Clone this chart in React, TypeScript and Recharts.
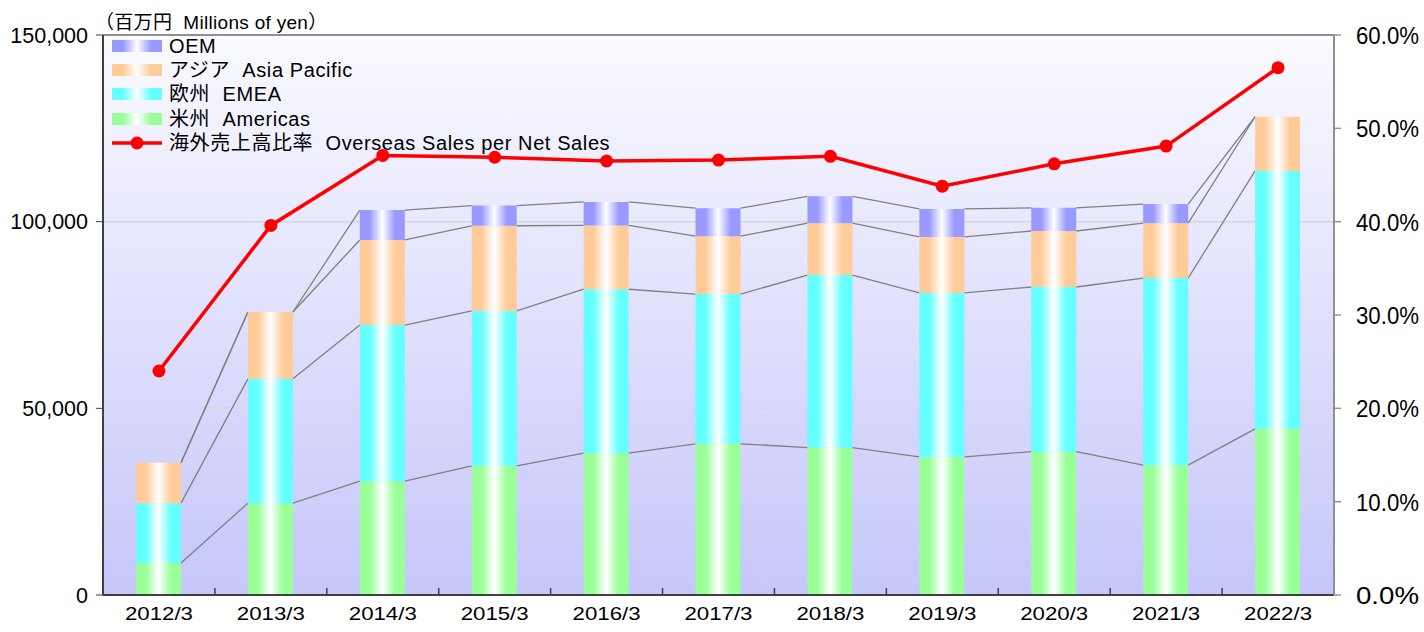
import {
  Bar,
  CartesianGrid,
  ComposedChart,
  Line,
  ReferenceLine,
  XAxis,
  YAxis,
} from 'recharts';

const years = ['2012/3', '2013/3', '2014/3', '2015/3', '2016/3', '2017/3', '2018/3', '2019/3', '2020/3', '2021/3', '2022/3'];
const americas = [8600, 24600, 30500, 34600, 38000, 40500, 39500, 37000, 38400, 34800, 44500];
const emea = [16000, 33300, 41800, 41500, 43900, 40100, 46200, 43900, 44100, 50100, 69100];
const asiaPacific = [10800, 17900, 22800, 22800, 17100, 15500, 13900, 15000, 15000, 14700, 14500];
const oem = [0, 0, 8000, 5400, 6300, 7500, 7200, 7500, 6200, 5100, 0];
const overseasRatio = [24.0, 39.6, 47.1, 46.9, 46.5, 46.6, 47.0, 43.8, 46.2, 48.1, 56.5];

const salesTicks = [0, 50000, 100000, 150000];
const ratioTicks = [0, 10, 20, 30, 40, 50, 60];

const W = 1424;
const H = 632;
const LEFT_W = 103;
const RIGHT_W = 90;
const BAND = (W - LEFT_W - RIGHT_W) / years.length;
const FONT = "'Liberation Sans', 'Noto Sans CJK JP', sans-serif";

const data = years.map((year, i) => ({
  year,
  americas: americas[i],
  emea: emea[i],
  asia: asiaPacific[i],
  oem: oem[i],
  ratio: overseasRatio[i],
}));

const legendItems = [
  { label: 'OEM', color: '#9999FF' },
  { label: 'アジア  Asia Pacific', color: '#FFCC99' },
  { label: '欧州  EMEA', color: '#66FFFF' },
  { label: '米州  Americas', color: '#99FF99' },
];

// cumulative tops of each stack level, for the Excel-style series lines
function levelsAt(i: number) {
  const a = americas[i];
  const b = a + emea[i];
  const c = b + asiaPacific[i];
  return [a, b, c, c + oem[i]];
}

function AmericasBar(props: any) {
  const { x, y, width, height } = props;
  const index = props.index ?? years.indexOf(props.payload?.year);
  const k = height / americas[index];
  const base = y + height;
  const lines: any[] = [];
  if (index < years.length - 1) {
    const cur = levelsAt(index);
    const nxt = levelsAt(index + 1);
    cur.forEach((v, j) =>
      lines.push(
        <line
          key={j}
          x1={x + width}
          y1={base - v * k}
          x2={x + BAND}
          y2={base - nxt[j] * k}
          stroke="#808080"
          strokeWidth={1.3}
        />
      )
    );
  }
  return (
    <g>
      <rect x={x} y={y} width={width} height={height} fill="url(#gAm)" />
      {lines}
    </g>
  );
}

function YearTick(props: any) {
  const { x, y, payload } = props;
  const half = payload?.offset || BAND / 2;
  return (
    <g>
      <line x1={x - half} x2={x - half} y1={y - 7} y2={y} stroke="#404040" strokeWidth={1.5} />
      <text x={x} y={y + 25} textAnchor="middle" fontSize={19} fill="#000" fontFamily={FONT} textLength={68} lengthAdjust="spacingAndGlyphs">
        {payload.value}
      </text>
    </g>
  );
}

function RatioTick(props: any) {
  const { x, y, payload } = props;
  return (
    <text x={x} y={y + 9} textAnchor="start" fontSize={23} fill="#000" fontFamily={FONT} textLength={63} lengthAdjust="spacingAndGlyphs">
      {`${Number(payload.value).toFixed(1)}%`}
    </text>
  );
}

function LegendBox() {
  return (
    <div style={{ position: 'absolute', left: 112, top: 34, fontFamily: FONT, fontSize: 20, letterSpacing: 0.6, color: '#000', lineHeight: '24.2px' }}>
      {legendItems.map((it) => (
        <div key={it.label} style={{ display: 'flex', alignItems: 'center', height: 24.2 }}>
          <span
            style={{
              display: 'inline-block',
              width: 50,
              height: 12,
              marginRight: 7,
              background: `linear-gradient(90deg, ${it.color} 0%, ${it.color} 22%, #fff 50%, ${it.color} 78%, ${it.color} 100%)`,
            }}
          />
          <span style={{ whiteSpace: 'pre' }}>{it.label}</span>
        </div>
      ))}
      <div style={{ display: 'flex', alignItems: 'center', height: 24.2 }}>
        <svg width={50} height={16} style={{ marginRight: 7 }}>
          <line x1={0} x2={50} y1={8} y2={8} stroke="#FF0000" strokeWidth={3.5} />
          <circle cx={25} cy={8} r={6.5} fill="#FF0000" />
        </svg>
        <span style={{ whiteSpace: 'pre' }}>海外売上高比率  Overseas Sales per Net Sales</span>
      </div>
    </div>
  );
}

export default function App() {
  return (
    <div style={{ position: 'absolute', left: 0, top: 0, width: W, height: H, background: '#fff', fontFamily: FONT }}>
      <ComposedChart width={W} height={H} data={data} margin={{ top: 35, right: 0, bottom: 0, left: 0 }}>
        <defs>
          <linearGradient id="plotBg" x1="0" y1="0" x2="0" y2="1">
            <stop offset="0" stopColor="#FAFAFF" />
            <stop offset="1" stopColor="#C6C6FA" />
          </linearGradient>
          {[
            ['gAm', '#99FF99'],
            ['gEm', '#66FFFF'],
            ['gAs', '#FFCC99'],
            ['gOe', '#9999FF'],
          ].map(([id, c]) => (
            <linearGradient key={id} id={id} x1="0" y1="0" x2="1" y2="0">
              <stop offset="0" stopColor={c} />
              <stop offset="0.22" stopColor={c} />
              <stop offset="0.5" stopColor="#FFFFFF" />
              <stop offset="0.78" stopColor={c} />
              <stop offset="1" stopColor={c} />
            </linearGradient>
          ))}
        </defs>
        <CartesianGrid yAxisId="left" vertical={false} fill="url(#plotBg)" stroke="#D6D6DE" strokeWidth={1.5} />
        <XAxis
          dataKey="year"
          height={37}
          axisLine={{ stroke: '#404040', strokeWidth: 2 }}
          tickLine={false}
          tickSize={0}
          tickMargin={0}
          tick={<YearTick />}
          interval={0}
        />
        <YAxis
          yAxisId="left"
          width={LEFT_W}
          domain={[0, 150000]}
          ticks={salesTicks}
          tickFormatter={(v) => Number(v).toLocaleString('en-US')}
          axisLine={{ stroke: '#404040', strokeWidth: 2 }}
          tickLine={{ stroke: '#404040' }}
          tickSize={7}
          tickMargin={8}
          tick={{ fontSize: 21.5, fill: '#000', fontFamily: FONT }}
        />
        <YAxis
          yAxisId="right"
          orientation="right"
          width={RIGHT_W}
          domain={[0, 60]}
          ticks={ratioTicks}
          axisLine={{ stroke: '#909090', strokeWidth: 2 }}
          tickLine={{ stroke: '#909090', strokeWidth: 1.5 }}
          tickSize={7}
          tickMargin={15}
          tick={<RatioTick />}
        />
        <ReferenceLine yAxisId="left" y={150000} stroke="#909090" strokeWidth={2} />
        <Bar yAxisId="left" dataKey="americas" stackId="s" barSize={45} fill="url(#gAm)" shape={<AmericasBar />} isAnimationActive={false} />
        <Bar yAxisId="left" dataKey="emea" stackId="s" barSize={45} fill="url(#gEm)" isAnimationActive={false} />
        <Bar yAxisId="left" dataKey="asia" stackId="s" barSize={45} fill="url(#gAs)" isAnimationActive={false} />
        <Bar yAxisId="left" dataKey="oem" stackId="s" barSize={45} fill="url(#gOe)" isAnimationActive={false} />
        <Line
          yAxisId="right"
          dataKey="ratio"
          stroke="#FF0000"
          strokeWidth={3.5}
          dot={{ r: 6.5, fill: '#FF0000', stroke: 'none' }}
          activeDot={false}
          isAnimationActive={false}
        />
      </ComposedChart>
      <div style={{ position: 'absolute', left: 95, top: 7, fontSize: 19, letterSpacing: 0.3, whiteSpace: 'pre' }}>
        （百万円  Millions of yen）
      </div>
      <LegendBox />
    </div>
  );
}
